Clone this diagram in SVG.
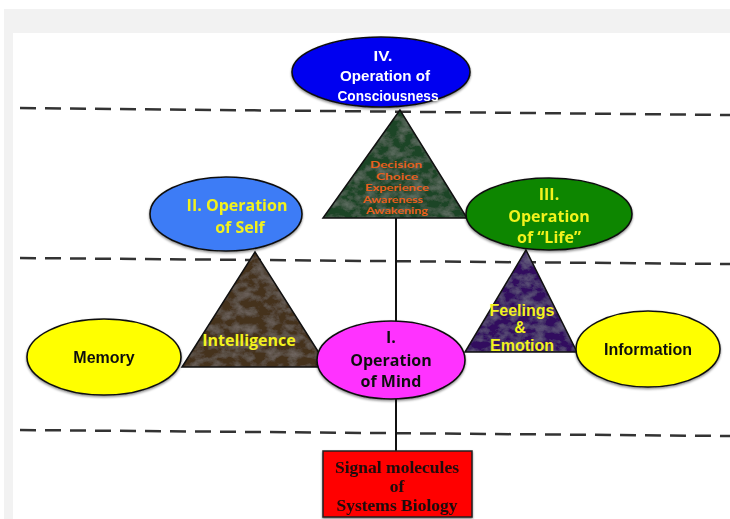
<svg xmlns="http://www.w3.org/2000/svg" width="730" height="519" viewBox="0 0 730 519">
<defs>
<filter id="marble" x="0" y="0" width="100%" height="100%">
<feTurbulence type="fractalNoise" baseFrequency="0.09 0.12" numOctaves="4" seed="7" result="n"/>
<feColorMatrix in="n" type="matrix" values="0 0 0 0 1  0 0 0 0 1  0 0 0 0 1  1.4 0 0 0 -0.55" result="m"/>
<feComposite in="m" in2="SourceGraphic" operator="in" result="mc"/>
<feComponentTransfer in="mc" result="mc2"><feFuncA type="linear" slope="0.16"/></feComponentTransfer>
<feMerge><feMergeNode in="SourceGraphic"/><feMergeNode in="mc2"/></feMerge>
</filter>
<filter id="shadow" x="-10%" y="-10%" width="120%" height="130%">
<feDropShadow dx="0" dy="1.5" stdDeviation="1.2" flood-color="#000" flood-opacity="0.45"/>
</filter>
</defs>
<style>
.dash{stroke:#333;stroke-width:2.5;stroke-dasharray:16 9;fill:none}
.conn{stroke:#111;stroke-width:2;fill:none}
.ell{stroke:#111;stroke-width:1.6}
.tri{stroke:#111;stroke-width:1.5}
.t{font-family:"Liberation Sans",Arial,sans-serif;font-weight:bold;text-anchor:middle}
.c{font-family:"Open Sans","Lato","Noto Sans",sans-serif;font-weight:bold;text-anchor:middle}
.l{font-family:"Lato","Open Sans",sans-serif;font-weight:bold;text-anchor:middle}
.w{fill:#fff;font-size:15px}
.y{fill:#f2f21e;font-size:16px}
.k{fill:#111;font-size:16px}
.o{fill:#e8601c;font-size:9.5px}
.serif{font-family:"Liberation Serif","Times New Roman",serif;font-weight:bold;text-anchor:middle;fill:#1a0a0a;font-size:17.5px}
</style>
<rect x="0" y="0" width="730" height="519" fill="#fff"/>
<rect x="4" y="9" width="726" height="510" fill="#f2f2f2"/>
<rect x="13" y="33" width="717" height="486" fill="#fff"/>

<g id="guides">
<line class="dash" x1="20" y1="108" x2="730" y2="115"/>
<line class="dash" x1="20" y1="258" x2="730" y2="264"/>
<line class="dash" x1="20" y1="430" x2="730" y2="436"/>
</g>

<g id="connectors">
<line class="conn" x1="396" y1="218" x2="396" y2="324"/>
<line class="conn" x1="396" y1="398" x2="396" y2="451"/>
</g>

<g id="node-consciousness-tri">
<polygon points="400,110 323,218 467,218" fill="#1d4526" filter="url(#marble)"/>
<polygon class="tri" points="400,110 323,218 467,218" fill="none"/>
<text class="l o" x="396" y="168" textLength="52" lengthAdjust="spacingAndGlyphs">Decision</text>
<text class="l o" x="397" y="179.5" textLength="42" lengthAdjust="spacingAndGlyphs">Choice</text>
<text class="l o" x="397" y="191" textLength="64" lengthAdjust="spacingAndGlyphs">Experience</text>
<text class="l o" x="393" y="202.5" textLength="60" lengthAdjust="spacingAndGlyphs">Awareness</text>
<text class="l o" x="397" y="214" textLength="62" lengthAdjust="spacingAndGlyphs">Awakening</text>
</g>

<g id="node-intelligence">
<polygon points="255,252 182,367 328,367" fill="#45301f" filter="url(#marble)"/>
<polygon class="tri" points="255,252 182,367 328,367" fill="none"/>
<text class="c y" x="249" y="346" font-size="13.5">Intelligence</text>
</g>

<g id="node-feelings">
<polygon points="526,250 465,352 577,352" fill="#33105e" filter="url(#marble)"/>
<polygon class="tri" points="526,250 465,352 577,352" fill="none"/>
<text class="t y" x="522" y="316" font-size="13.5">Feelings</text>
<text class="t y" x="520" y="333" font-size="13.5">&amp;</text>
<text class="t y" x="522" y="351" font-size="13.5">Emotion</text>
</g>

<g id="node-consciousness" filter="url(#shadow)">
<ellipse class="ell" cx="381" cy="72" rx="89" ry="35" fill="#0000f0"/>
<text class="t w" x="383" y="61" textLength="19" lengthAdjust="spacingAndGlyphs">IV.</text>
<text class="t w" x="385" y="81" textLength="90" lengthAdjust="spacingAndGlyphs">Operation of</text>
<text class="t w" x="388" y="101" textLength="101" lengthAdjust="spacingAndGlyphs">Consciousness</text>
</g>

<g id="node-self" filter="url(#shadow)">
<ellipse class="ell" cx="226" cy="214" rx="76" ry="37" fill="#3d7cf6"/>
<text class="c y" x="237" y="211">II. Operation</text>
<text class="c y" x="240" y="233">of Self</text>
</g>

<g id="node-life" filter="url(#shadow)">
<ellipse class="ell" cx="549" cy="214" rx="83" ry="36" fill="#0a8600"/>
<text class="c y" x="549" y="200">III.</text>
<text class="c y" x="549" y="222">Operation</text>
<text class="c y" x="549" y="243">of “Life”</text>
</g>

<g id="node-mind" filter="url(#shadow)">
<ellipse class="ell" cx="391" cy="360" rx="74" ry="39" fill="#ff33ff"/>
<text class="c k" x="391" y="343">I.</text>
<text class="c k" x="391" y="366">Operation</text>
<text class="c k" x="391" y="387">of Mind</text>
</g>

<g id="node-memory" filter="url(#shadow)">
<ellipse class="ell" cx="104" cy="357" rx="77" ry="38" fill="#ffff00"/>
<text class="t k" x="104" y="363" font-size="15">Memory</text>
</g>

<g id="node-information" filter="url(#shadow)">
<ellipse class="ell" cx="648" cy="349" rx="72" ry="38" fill="#ffff00"/>
<text class="t k" x="648" y="355" font-size="15">Information</text>
</g>

<g id="node-signal" filter="url(#shadow)">
<rect x="323" y="451" width="149" height="66" fill="#ff0000" stroke="#222" stroke-width="1.5"/>
<text class="serif" x="397" y="473">Signal molecules</text>
<text class="serif" x="397" y="492">of</text>
<text class="serif" x="397" y="511">Systems Biology</text>
</g>
</svg>
